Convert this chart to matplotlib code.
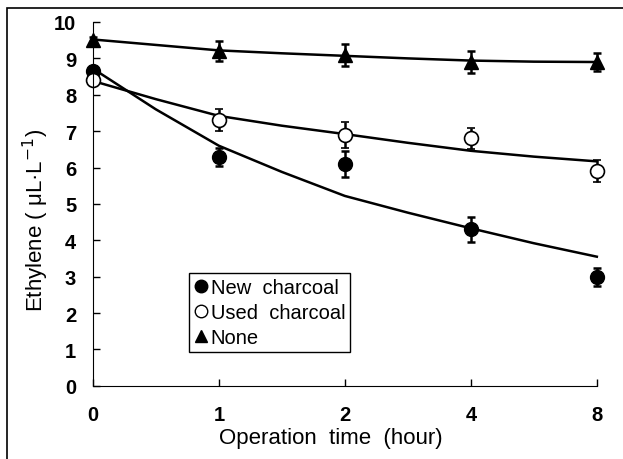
import matplotlib
matplotlib.use('Agg')
import matplotlib.pyplot as plt
from matplotlib.patches import Rectangle
from matplotlib.lines import Line2D

plt.rcParams['font.family'] = ['Liberation Sans', 'DejaVu Sans']

# Data (x axis is categorical: equally spaced hours)
hours = ['0', '1', '2', '4', '8']
new_charcoal = [8.65, 6.3, 6.1, 4.3, 3.0]
new_err = [0.15, 0.25, 0.35, 0.35, 0.25]
used_charcoal = [8.4, 7.3, 6.9, 6.8, 5.9]
used_err = [0.15, 0.3, 0.35, 0.3, 0.3]
none = [9.5, 9.2, 9.1, 8.9, 8.9]
none_err = [0.1, 0.28, 0.3, 0.3, 0.25]

# fitted trend lines, read at half-category steps
fit_pos = [0, 0.5, 1, 1.5, 2, 2.5, 3, 3.5, 4]
new_fit = [8.72, 7.6, 6.6, 5.88, 5.22, 4.76, 4.33, 3.92, 3.55]
used_fit = [8.38, 7.88, 7.42, 7.15, 6.92, 6.68, 6.46, 6.3, 6.17]
none_fit = [9.52, 9.37, 9.22, 9.14, 9.07, 9.0, 8.94, 8.91, 8.9]

x = list(range(len(hours)))

fig = plt.figure(figsize=(6.23, 4.6), dpi=100)
ax = fig.add_axes([0.149, 0.159, 0.809, 0.791])

for fit in (new_fit, used_fit, none_fit):
    ax.plot(fit_pos, fit, color='black', lw=1.8, clip_on=False)

eb = dict(ecolor='black', elinewidth=1.8, capsize=3, capthick=1.8, ls='none')
h1 = ax.errorbar(x, new_charcoal, yerr=new_err, fmt='o', mfc='black', mec='black',
                 ms=10, **eb)
h2 = ax.errorbar(x, used_charcoal, yerr=used_err, fmt='o', mfc='white', mec='black',
                 mew=1.2, ms=10, **eb)
h3 = ax.errorbar(x, none, yerr=none_err, fmt='^', mfc='black', mec='black',
                 ms=10, **eb)
for h in (h1, h2, h3):
    h.lines[0].set_clip_on(False)
    for a in h.lines[1] + h.lines[2]:
        a.set_clip_on(False)

ax.set_xlim(0, 4)
ax.set_ylim(0, 10)
ax.set_xticks(x)
ax.set_xticklabels(hours)
ax.set_yticks(range(0, 11))
ax.spines['top'].set_visible(False)
ax.spines['right'].set_visible(False)
ax.tick_params(axis='both', direction='in', length=5, width=1, labelsize=14.5)
ax.tick_params(axis='y', pad=12)
ax.tick_params(axis='x', pad=14)
for lab in ax.get_xticklabels() + ax.get_yticklabels():
    lab.set_fontweight('bold')

ax.set_xlabel('Operation  time  (hour)', fontsize=16, labelpad=2)
ax.set_ylabel('Ethylene ( μL·L$^{-1}$)', fontsize=16, labelpad=2)
ax.xaxis.label.set_x(0.472)
ax.yaxis.label.set_y(0.456)

handles = [Line2D([], [], marker='o', ls='none', mfc='black', mec='black', ms=9),
           Line2D([], [], marker='o', ls='none', mfc='white', mec='black', ms=9),
           Line2D([], [], marker='^', ls='none', mfc='black', mec='black', ms=9)]
leg = ax.legend(handles, ['New  charcoal', 'Used  charcoal', 'None'],
                loc='lower left', bbox_to_anchor=(0.19, 0.093), fontsize=14.5,
                frameon=True, fancybox=False, edgecolor='black', framealpha=1,
                handlelength=0.7, handletextpad=0.15, borderpad=0.25,
                labelspacing=0.3, borderaxespad=0)
leg.get_frame().set_linewidth(1)

fig.patches.append(Rectangle((7 / 623, -0.1), 1.2, 1.1 - 9 / 460,
                             transform=fig.transFigure, fill=False,
                             edgecolor='black', lw=1.2))

fig.savefig('out.png', dpi=100)
